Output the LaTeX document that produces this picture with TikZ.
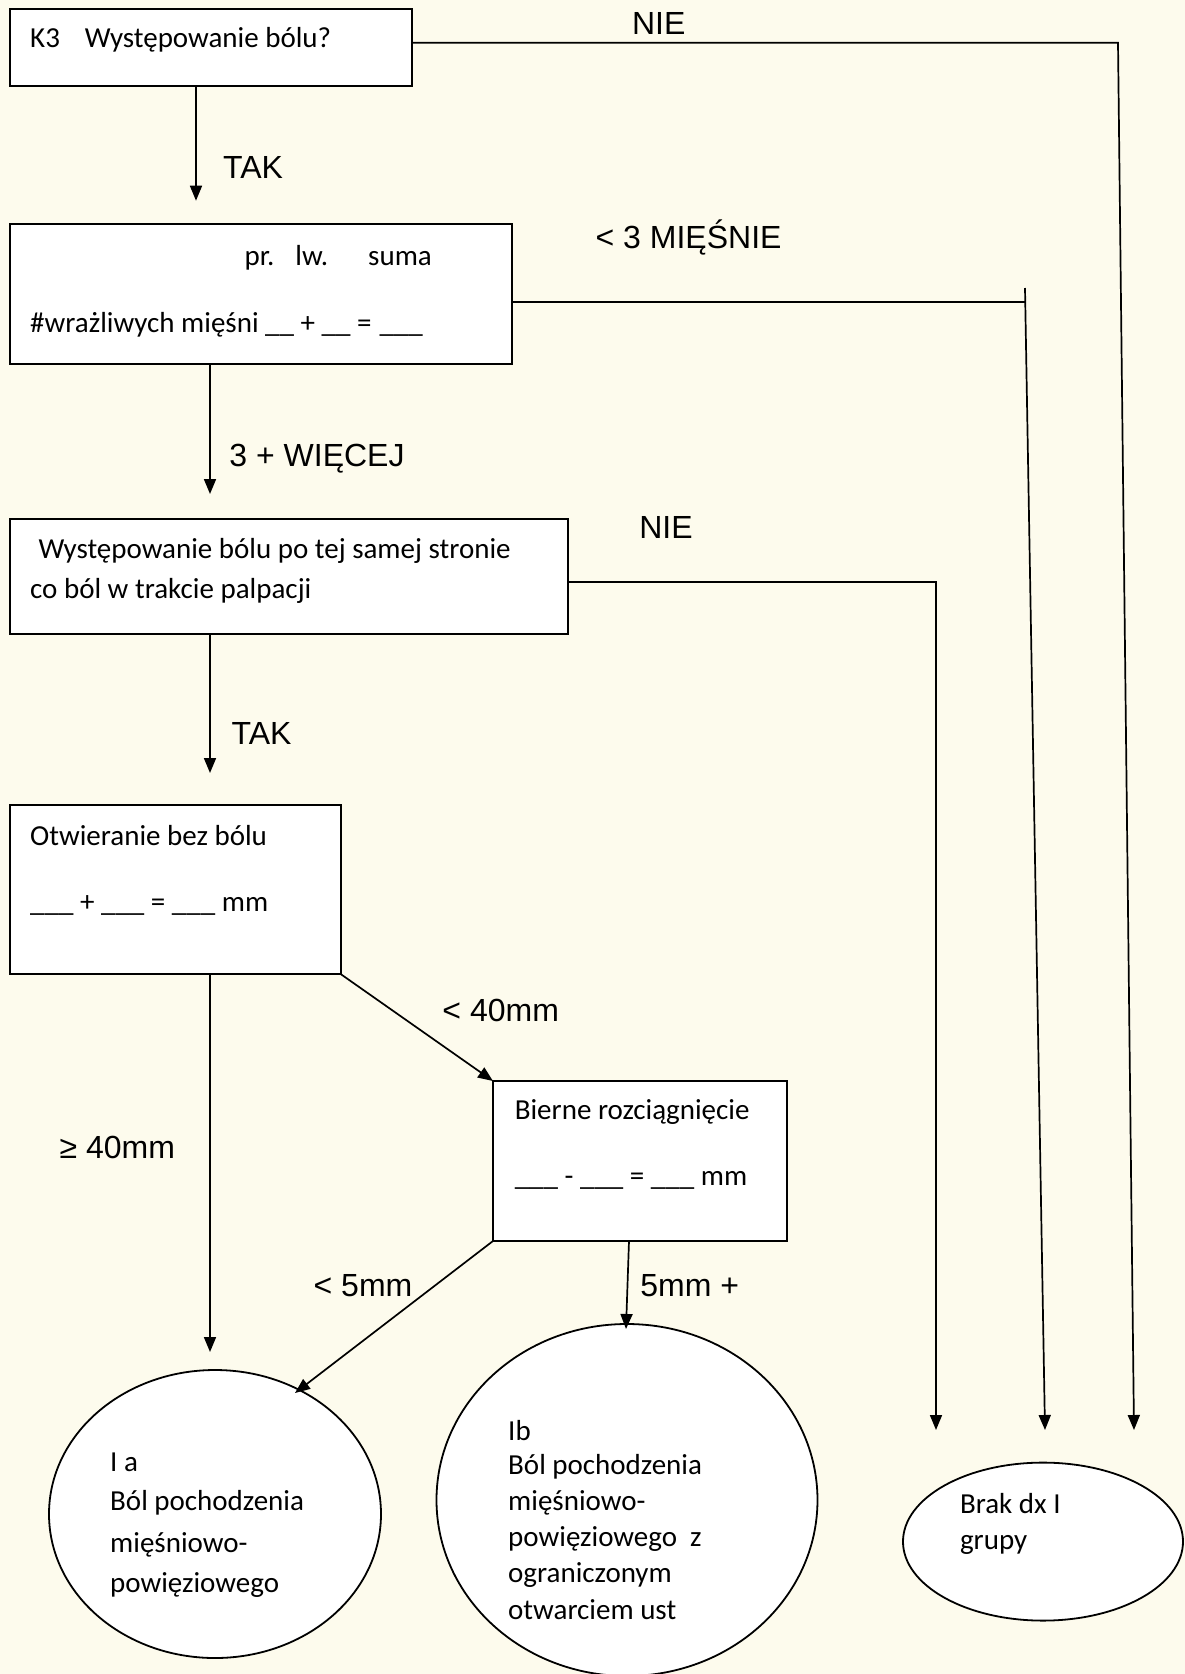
\documentclass[tikz,border=0pt]{standalone}
\usepackage{fontspec}
\setmainfont{Carlito}
\newfontfamily\labfont{Liberation Sans}
\usetikzlibrary{arrows.meta,shapes.geometric,calc}
\definecolor{bgcream}{RGB}{253,251,237}
\begin{document}
\begin{tikzpicture}[x=1pt,y=-1pt,
  box/.style={draw,line width=2pt,fill=white,rectangle,inner sep=0pt,outer sep=0pt,anchor=north west},
  oval/.style={draw,line width=1.8pt,fill=white,ellipse,inner sep=0pt,outer sep=0pt},
  txt/.style={anchor=west,inner sep=0pt,font=\fontsize{29}{35}\selectfont},
  lab/.style={inner sep=0pt,font=\labfont\fontsize{32}{38}\selectfont},
  conn/.style={line width=1.7pt},
  arr/.style={conn,-{Triangle[length=15pt,width=12pt]}}]
\fill[bgcream] (0,0) rectangle (1185,1674);
\useasboundingbox (0,0) rectangle (1185,1674);

% boxes
\node[box,minimum width=402.4pt,minimum height=77pt] (b1) at (9.6,8.5) {};
\node[box,minimum width=502.4pt,minimum height=140pt] (b2) at (9.6,224) {};
\node[box,minimum width=558.4pt,minimum height=115pt] (b3) at (9.6,519) {};
\node[box,minimum width=331pt,minimum height=169pt] (b4) at (9.6,805) {};
\node[box,minimum width=294pt,minimum height=160pt] (b5) at (493,1081) {};

% ellipses
\node[oval,minimum width=332pt,minimum height=288pt] (ea) at (215,1514) {};
\node[oval,minimum width=381pt,minimum height=352pt] (eb) at (627,1500) {};
\node[oval,minimum width=280pt,minimum height=158pt] (ec) at (1043,1541.6) {};

% box texts
\node[txt] (t1) at (30,39.4) {K3\hspace{25pt}Występowanie bólu?};
\node[txt] (t2a) at (244.5,258) {pr.\hspace{21pt}lw.\hspace{40pt}suma};
\node[txt] (t2b) at (30,324.4) {\#wrażliwych mięśni \_\_ + \_\_ =\hspace{8pt}\_\_\_};
\node[txt] (t3a) at (38.4,550.7) {Występowanie bólu po tej samej stronie};
\node[txt] (t3b) at (30,591) {co ból w trakcie palpacji};
\node[txt] (t4a) at (30,835.8) {Otwieranie bez bólu};
\node[txt] (t4b) at (30,905) {\_\_\_ + \_\_\_ = \_\_\_ mm};
\node[txt] (t5a) at (514.6,1112) {Bierne rozciągnięcie};
\node[txt] (t5b) at (514.6,1180.6) {\_\_\_ - \_\_\_ = \_\_\_ mm};

% ellipse texts
\node[txt] (ea1) at (110,1462.5) {I a};
\node[txt] (ea2) at (110,1503) {Ból pochodzenia};
\node[txt] (ea3) at (110,1544.7) {mięśniowo-};
\node[txt] (ea4) at (110,1585) {powięziowego};
\node[txt] (eb1) at (508,1430.5) {Ib};
\node[txt] (eb2) at (508,1466.7) {Ból pochodzenia};
\node[txt] (eb3) at (508,1503) {mięśniowo-};
\node[txt] (eb4) at (508,1539.3) {powięziowego\ \ z};
\node[txt] (eb5) at (508,1574.6) {ograniczonym};
\node[txt] (eb6) at (508,1609.8) {otwarciem ust};
\node[txt] (ec1) at (959.8,1504) {Brak dx I};
\node[txt] (ec2) at (959.8,1544.7) {grupy};

% labels
\node[lab] (lnie1) at (658.7,23.5) {NIE};
\node[lab] (ltak1) at (253,167.6) {TAK};
\node[lab] (lmies) at (688.6,237) {< 3 MIĘŚNIE};
\node[lab] (lwiec) at (317,459) {3 + WIĘCEJ};
\node[lab] (lnie2) at (666,527.4) {NIE};
\node[lab] (ltak2) at (261.6,733.4) {TAK};
\node[lab] (l40a) at (500.7,1010) {< 40mm};
\node[lab] (l40b) at (117.4,1147.7) {≥ 40mm};
\node[lab] (l5a) at (363,1285.4) {< 5mm};
\node[lab] (l5b) at (689.7,1285.4) {5mm +};

% right-hand connectors
\coordinate (c1) at (1118,42.7);
\coordinate (c1e) at (1134,1430);
\draw[arr] ([yshift=4.3pt]b1.east) -- (c1) -- (c1e);

\coordinate (c2top) at (1025,288);
\coordinate (c2e) at (1045,1430);
\draw[conn] ([yshift=-8pt]b2.east) -- ([yshift=-8pt]b2.east -| c2top);
\draw[arr] (c2top) -- (c2e);

\coordinate (c3) at (936,582);
\coordinate (c3e) at (936,1430);
\draw[arr] ([yshift=-5.5pt]b3.east) -- (c3) -- (c3e);

% downward connectors
\coordinate (a1) at (196,200.7);
\draw[arr] (b1.south -| a1) -- (a1);
\coordinate (a2) at (210,494);
\draw[arr] (b2.south -| a2) -- (a2);
\coordinate (a3) at (210,773);
\draw[arr] (b3.south -| a3) -- (a3);
\coordinate (a4) at (210,1352);
\draw[arr] (b4.south -| a4) -- (a4);
\draw[arr] (b4.south east) -- (b5.north west);
\coordinate (a5) at (295,1393);
\draw[arr] (b5.south west) -- (a5);
\coordinate (a6) at (626,1329);
\draw[arr] ([xshift=-11pt]b5.south) -- (a6);
\end{tikzpicture}
\end{document}
